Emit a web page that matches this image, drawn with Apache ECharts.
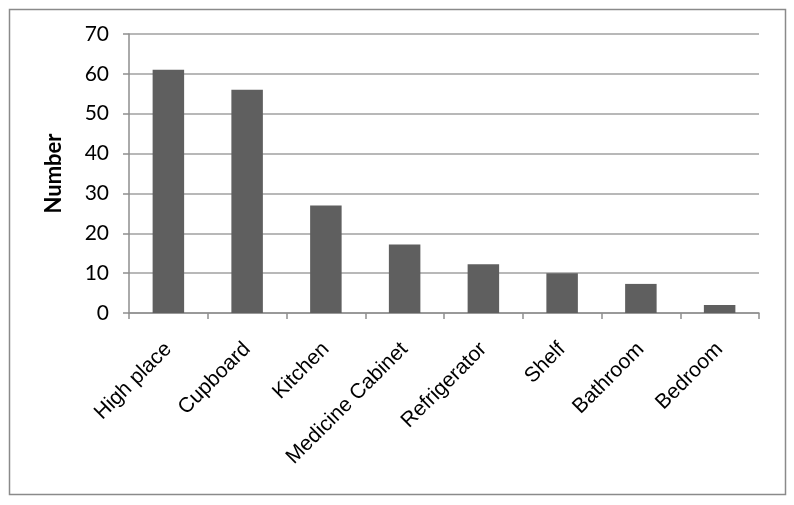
<!DOCTYPE html>
<html>
<head>
<meta charset="utf-8">
<script src="https://cdn.jsdelivr.net/npm/echarts@6/dist/echarts.min.js"></script>
<style>
  html, body { margin: 0; padding: 0; background: #fff; }
  #chart { width: 794px; height: 505px; }
</style>
</head>
<body>
<div id="chart"></div>
<script>
  // data
  const categories = ['High place', 'Cupboard', 'Kitchen', 'Medicine Cabinet', 'Refrigerator', 'Shelf', 'Bathroom', 'Bedroom']
  const counts = [61, 56, 27, 17.2, 12.2, 10, 7.3, 2]
  const yTicks = { min: 0, max: 70, step: 10 }

  const myChart = echarts.init(document.getElementById('chart'))
  const axisGray = '#8e8e8e'

  const option = {
    animation: false,
    graphic: [
      {
        type: 'rect',
        shape: { x: 9.5, y: 9.5, width: 776, height: 485 },
        style: { fill: 'none', stroke: '#8a8a8a', lineWidth: 1.5 }
      }
    ],
    grid: { left: 129, right: 35, top: 34, bottom: 192 },
    xAxis: {
      type: 'category',
      data: categories,
      axisLine: { lineStyle: { color: axisGray, width: 1.5 } },
      axisTick: { show: true, length: 6, lineStyle: { color: axisGray, width: 1.5 } },
      axisLabel: {
        rotate: 45,
        interval: 0,
        margin: 33,
        color: '#000',
        fontSize: 21,
        fontFamily: 'Liberation Sans, Arial, sans-serif'
      }
    },
    yAxis: {
      type: 'value',
      min: yTicks.min,
      max: yTicks.max,
      interval: yTicks.step,
      name: 'Number',
      nameLocation: 'middle',
      nameGap: 64,
      nameTextStyle: {
        color: '#000',
        fontSize: 22,
        fontWeight: 'bold',
        fontFamily: 'Lato, Open Sans, sans-serif'
      },
      axisLine: { show: true, lineStyle: { color: axisGray, width: 1.5 } },
      axisTick: { show: true, length: 6, lineStyle: { color: axisGray, width: 1.5 } },
      axisLabel: {
        margin: 20,
        color: '#000',
        fontSize: 21,
        fontFamily: 'Lato, Open Sans, sans-serif'
      },
      splitLine: { lineStyle: { color: '#a0a0a0', width: 1.5 } }
    },
    series: [
      {
        type: 'bar',
        data: counts,
        barWidth: '40%',
        itemStyle: { color: '#5f5f5f' }
      }
    ]
  }

  myChart.setOption(option)
</script>
</body>
</html>
